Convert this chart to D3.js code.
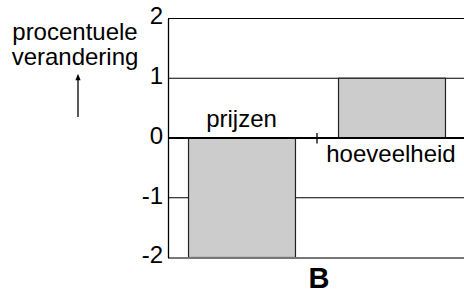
<!DOCTYPE html>
<html>
<head>
<meta charset="utf-8">
<script src="https://cdn.jsdelivr.net/npm/d3@7"></script>
<style>
  body { margin: 0; background: #fff; }
  text { font-family: Arial, "Liberation Sans", sans-serif; fill: #000; }
</style>
</head>
<body>
<div id="chart"></div>
<script>
// data
var categories = ["prijzen", "hoeveelheid"];
var values = [-2, 1];
var yTicks = [-2, -1, 0, 1, 2];
var yTitle = ["procentuele", "verandering"];
var xTitle = "B";

var width = 464, height = 293;
var fontSize = 24;

var svg = d3.select("#chart")
    .append("svg")
    .attr("width", width)
    .attr("height", height);

var x = d3.scaleBand()
    .domain(categories)
    .range([167, 467])
    .paddingInner(0.287)
    .paddingOuter(0.1435);

var y = d3.scaleLinear()
    .domain([-2, 2])
    .range([257.5, 18.5]);

// grid lines at 2, 1, -1
svg.append("g")
    .selectAll("line")
    .data([2, 1, -1])
    .enter()
    .append("line")
    .attr("x1", 168)
    .attr("x2", width)
    .attr("y1", function (d) { return y(d); })
    .attr("y2", function (d) { return y(d); })
    .attr("stroke", "#000")
    .attr("stroke-width", 1.2);

// bars
svg.append("g")
    .selectAll("rect")
    .data(values)
    .enter()
    .append("rect")
    .attr("x", function (d, i) { return x(categories[i]); })
    .attr("width", x.bandwidth())
    .attr("y", function (d) { return y(Math.max(0, d)); })
    .attr("height", function (d) { return Math.abs(y(d) - y(0)); })
    .attr("fill", "#cccccc")
    .attr("stroke", "#222")
    .attr("stroke-width", 1.2);

// bottom line (-2), grey
svg.append("line")
    .attr("x1", 168).attr("x2", width)
    .attr("y1", y(-2) + 0.5).attr("y2", y(-2) + 0.5)
    .attr("stroke", "#777")
    .attr("stroke-width", 2);

// zero line
svg.append("line")
    .attr("x1", 168).attr("x2", width)
    .attr("y1", y(0)).attr("y2", y(0))
    .attr("stroke", "#000")
    .attr("stroke-width", 2);

// tick between categories on zero line
var mid = (x(categories[0]) + x.bandwidth() + x(categories[1])) / 2;
svg.append("line")
    .attr("x1", mid).attr("x2", mid)
    .attr("y1", y(0) - 5).attr("y2", y(0) + 5.5)
    .attr("stroke", "#000")
    .attr("stroke-width", 1.3);

// y axis
var yAxis = d3.axisLeft(y)
    .tickValues(yTicks)
    .tickSize(0)
    .tickPadding(5)
    .tickFormat(d3.format("d"));

var gy = svg.append("g")
    .attr("transform", "translate(168,0)")
    .call(yAxis);
gy.select(".domain")
    .attr("stroke", "#000")
    .attr("stroke-width", 1.3);
gy.selectAll("text")
    .attr("font-size", fontSize)
    .attr("font-family", "Arial, 'Liberation Sans', sans-serif")
    .attr("dy", "0.22em")
    .text(function (d) { return String(d).replace("\u2212", "-"); });

// category labels
svg.append("text")
    .attr("x", x(categories[0]) + x.bandwidth() / 2 - 0.5)
    .attr("y", 127)
    .attr("text-anchor", "middle")
    .attr("font-size", fontSize)
    .text(categories[0]);

svg.append("text")
    .attr("x", x(categories[1]) + x.bandwidth() / 2 - 1)
    .attr("y", 162)
    .attr("text-anchor", "middle")
    .attr("font-size", fontSize)
    .text(categories[1]);

// y title
svg.append("g")
    .selectAll("text")
    .data(yTitle)
    .enter()
    .append("text")
    .attr("x", 75)
    .attr("y", function (d, i) { return 40 + i * 25; })
    .attr("text-anchor", "middle")
    .attr("font-size", fontSize)
    .text(function (d) { return d; });

// arrow
svg.append("defs").append("marker")
    .attr("id", "arrowhead")
    .attr("viewBox", "0 0 10 10")
    .attr("refX", 5).attr("refY", 5)
    .attr("markerWidth", 7).attr("markerHeight", 5)
    .attr("orient", "auto")
    .append("path")
    .attr("d", "M0,1L10,5L0,9Z")
    .attr("fill", "#000");

svg.append("line")
    .attr("x1", 78).attr("x2", 78)
    .attr("y1", 117).attr("y2", 77)
    .attr("stroke", "#000")
    .attr("stroke-width", 1.3)
    .attr("marker-end", "url(#arrowhead)");

// x title
svg.append("text")
    .attr("x", mid + 2)
    .attr("y", 288)
    .attr("text-anchor", "middle")
    .attr("font-size", 29)
    .attr("font-weight", "bold")
    .text(xTitle);
</script>
</body>
</html>
